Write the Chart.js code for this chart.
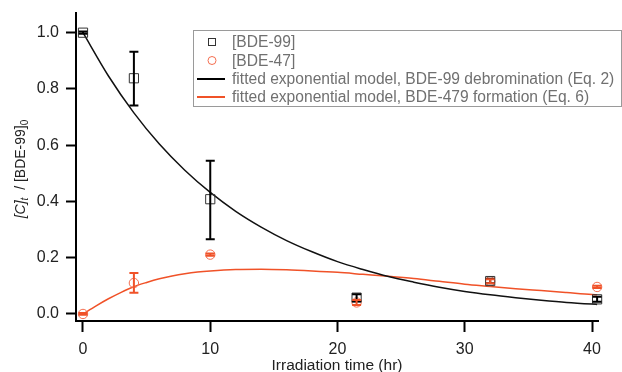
<!DOCTYPE html>
<html><head><meta charset="utf-8">
<script src="https://cdn.jsdelivr.net/npm/chart.js@4/dist/chart.umd.min.js"></script>
<style>html,body{margin:0;padding:0;background:#fff;}#wrap{width:622px;height:372px;position:relative;}</style>
</head><body><div id="wrap"><canvas id="c" width="622" height="372"></canvas></div>
<script>
// ---- data ----
const timeBDE99 = [0, 4, 10, 21.5, 32, 40.4];
const valBDE99  = [1.0, 0.838, 0.408, 0.058, 0.117, 0.052];
const loBDE99   = [0.996, 0.741, 0.266, 0.046, 0.109, 0.043];
const hiBDE99   = [1.004, 0.932, 0.545, 0.070, 0.125, 0.061];

const timeBDE47 = [0, 4, 10, 21.5, 32, 40.4];
const valBDE47  = [0.0, 0.110, 0.211, 0.041, 0.116, 0.096];
const loBDE47   = [-0.003, 0.075, 0.207, 0.032, 0.109, 0.092];
const hiBDE47   = [0.003, 0.146, 0.215, 0.050, 0.123, 0.100];

const fitTime99 = [0, 2, 4, 6, 8, 10, 12, 14, 16, 18, 20, 22, 24, 26, 28, 30, 32, 34, 36, 38, 40, 40.4];
const fitVal99  = [1.0, 0.846, 0.715, 0.604, 0.511, 0.432, 0.365, 0.309, 0.261, 0.221, 0.186, 0.158, 0.133, 0.113, 0.095, 0.080, 0.068, 0.058, 0.049, 0.041, 0.035, 0.034];

const fitTime47 = [0, 1, 2, 3, 4, 5, 6, 7, 8, 9, 10, 12, 14, 16, 18, 20, 22, 24, 26, 28, 30, 32, 34, 36, 38, 40, 40.4];
const fitVal47  = [0.0, 0.028, 0.054, 0.077, 0.097, 0.112, 0.125, 0.135, 0.143, 0.149, 0.153, 0.158, 0.159, 0.157, 0.153, 0.148, 0.141, 0.134, 0.126, 0.116, 0.106, 0.098, 0.090, 0.083, 0.076, 0.069, 0.068];

const xTicks = [0, 10, 20, 30, 40];
const yTicks = [0.0, 0.2, 0.4, 0.6, 0.8, 1.0];

const legendLabels = ['[BDE-99]', '[BDE-47]',
  'fitted exponential model, BDE-99 debromination (Eq. 2)',
  'fitted exponential model, BDE-479 formation (Eq. 6)'];
const xTitle = 'Irradiation time (hr)';

// ---- styles ----
const RED = 'rgb(240,82,40)';
const RED_MK = 'rgb(244,110,80)';
const FONT = '"Liberation Sans", Arial, sans-serif';

const pts = (xs, ys) => xs.map((x, i) => ({x, y: ys[i]}));

const errorBars = {
  id: 'errorBars',
  afterDatasetsDraw(chart) {
    const {ctx, scales: {x, y}} = chart;
    const sets = [[timeBDE99, loBDE99, hiBDE99, '#000'], [timeBDE47, loBDE47, hiBDE47, RED]];
    ctx.save();
    for (const [ts, lo, hi, col] of sets) {
      ctx.strokeStyle = col; ctx.lineWidth = 2;
      ts.forEach((t, i) => {
        const px = x.getPixelForValue(t), p1 = y.getPixelForValue(lo[i]), p2 = y.getPixelForValue(hi[i]);
        ctx.beginPath();
        ctx.moveTo(px, p1); ctx.lineTo(px, p2);
        ctx.moveTo(px - 4.5, p1); ctx.lineTo(px + 4.5, p1);
        ctx.moveTo(px - 4.5, p2); ctx.lineTo(px + 4.5, p2);
        ctx.stroke();
      });
    }
    ctx.restore();
  }
};

const extras = {
  id: 'extras',
  afterDraw(chart) {
    const ctx = chart.ctx;
    ctx.save();
    // legend box
    ctx.strokeStyle = '#9a9a9a'; ctx.lineWidth = 1;
    ctx.strokeRect(193.5, 30.5, 428, 76);
    const rowY = [42, 60.5, 79, 97];
    ctx.font = '15.6px ' + FONT; ctx.fillStyle = '#707070'; ctx.textBaseline = 'middle'; ctx.textAlign = 'left';
    legendLabels.forEach((t, i) => ctx.fillText(t, 232, rowY[i] + 1));
    ctx.strokeStyle = '#333'; ctx.lineWidth = 1;
    ctx.strokeRect(208.5, rowY[0] - 3.5, 7, 7);
    ctx.strokeStyle = RED_MK;
    ctx.beginPath(); ctx.arc(212, rowY[1], 4, 0, Math.PI * 2); ctx.stroke();
    ctx.lineWidth = 2;
    ctx.strokeStyle = '#000'; ctx.beginPath(); ctx.moveTo(197, rowY[2]); ctx.lineTo(225, rowY[2]); ctx.stroke();
    ctx.strokeStyle = RED; ctx.beginPath(); ctx.moveTo(197, rowY[3]); ctx.lineTo(225, rowY[3]); ctx.stroke();
    // y axis title with sub-scripts
    const parts = [['[C]', 'italic 14px ' + FONT, 0], ['t', 'italic 10px ' + FONT, 4],
                   ['  / [BDE-99]', '14px ' + FONT, 0], ['0', '10px ' + FONT, 4]];
    let total = 0;
    parts.forEach(p => { ctx.font = p[1]; total += ctx.measureText(p[0]).width; });
    ctx.translate(21, 169); ctx.rotate(-Math.PI / 2);
    ctx.fillStyle = '#222'; ctx.textBaseline = 'middle';
    let cx = -total / 2;
    parts.forEach(p => { ctx.font = p[1]; ctx.fillText(p[0], cx, p[2]); cx += ctx.measureText(p[0]).width; });
    ctx.restore();
  }
};

new Chart(document.getElementById('c'), {
  type: 'scatter',
  data: {
    datasets: [
      {label: legendLabels[0], data: pts(timeBDE99, valBDE99), pointStyle: 'rect', pointRadius: 6.5,
       borderColor: '#333', backgroundColor: 'rgba(0,0,0,0)', borderWidth: 1, showLine: false, clip: false},
      {label: legendLabels[1], data: pts(timeBDE47, valBDE47), pointStyle: 'circle', pointRadius: 4.7,
       borderColor: RED_MK, backgroundColor: 'rgba(0,0,0,0)', borderWidth: 1, showLine: false, clip: false},
      {label: legendLabels[2], data: pts(fitTime99, fitVal99), showLine: true, pointRadius: 0,
       borderColor: '#111', borderWidth: 1.5, cubicInterpolationMode: 'monotone', clip: false},
      {label: legendLabels[3], data: pts(fitTime47, fitVal47), showLine: true, pointRadius: 0,
       borderColor: RED, borderWidth: 1.5, cubicInterpolationMode: 'monotone', clip: false}
    ]
  },
  options: {
    responsive: false, animation: false, devicePixelRatio: 1,
    layout: {padding: {left: 0, top: 13, right: 24, bottom: 0}},
    plugins: {legend: {display: false}, tooltip: {enabled: false}},
    scales: {
      x: {
        type: 'linear', min: -0.55, max: 40.47,
        afterBuildTicks: s => { s.ticks = xTicks.map(v => ({value: v})); },
        afterFit: s => { s.height = 51; s.paddingLeft = 0; s.paddingRight = 0; },
        grid: {drawOnChartArea: false, drawTicks: true, tickLength: 11, tickWidth: 2, tickColor: '#000'},
        border: {display: true, color: '#000', width: 2},
        ticks: {color: '#222', font: {family: FONT, size: 16}, padding: 8, maxRotation: 0,
                callback: v => String(v)},
        title: {display: true, text: xTitle, color: '#222', font: {family: FONT, size: 15.5}, padding: {top: 0, bottom: -3}}
      },
      y: {
        type: 'linear', min: -0.025, max: 1.07,
        afterBuildTicks: s => { s.ticks = yTicks.map(v => ({value: v})); },
        afterFit: s => { s.width = 76; s.paddingTop = 0; s.paddingBottom = 0; },
        grid: {drawOnChartArea: false, drawTicks: true, tickLength: 10, tickWidth: 2, tickColor: '#000'},
        border: {display: true, color: '#000', width: 2},
        ticks: {color: '#222', font: {family: FONT, size: 16}, padding: 7,
                callback: v => Number(v).toFixed(1)}
      }
    }
  },
  plugins: [errorBars, extras]
});
</script></body></html>
